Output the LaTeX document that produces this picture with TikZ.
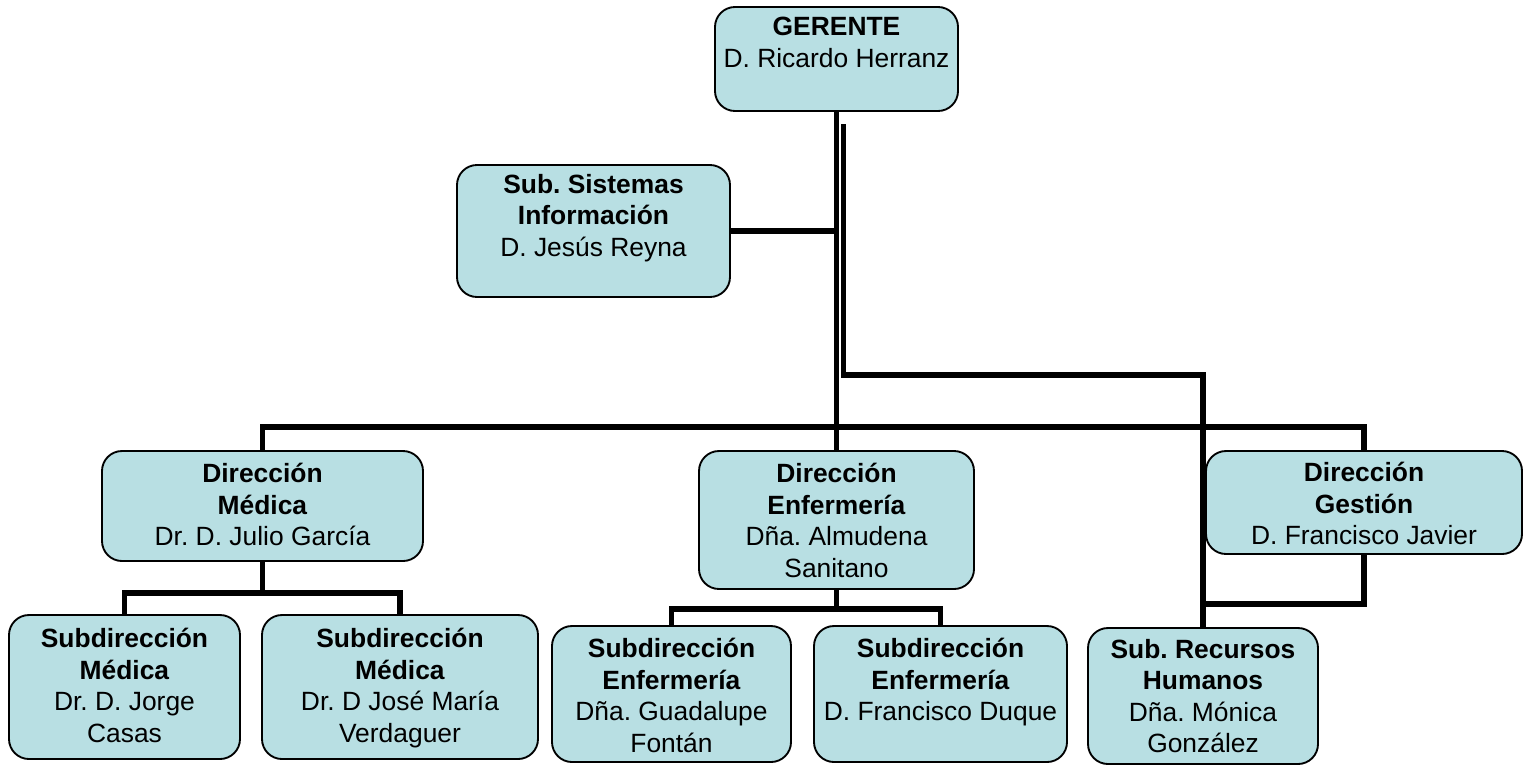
\documentclass[tikz,border=0pt]{standalone}
\usepackage{fontspec}
\setmainfont{Liberation Sans}
\usetikzlibrary{backgrounds}
\definecolor{boxfill}{HTML}{B8DFE3}
\frenchspacing
\begin{document}
\begin{tikzpicture}[x=0.75pt,y=-0.75pt,
  orgbox/.style={draw=black,line width=1.4pt,fill=boxfill,rounded corners=15pt,inner sep=0pt},
  orgtxt/.style={anchor=north,align=center,inner sep=0pt,font=\fontsize{19.8}{23.6}\selectfont},
  conn/.style={line width=4pt,line cap=butt,line join=miter}]
\useasboundingbox (0,0) rectangle (1523,765);
% boxes
\node[orgbox,minimum width=243*0.75pt,minimum height=104*0.75pt] (g) at (836.5,59) {};
\node[orgbox,minimum width=273*0.75pt,minimum height=132*0.75pt] (sis) at (593.5,231) {};
\node[orgbox,minimum width=321*0.75pt,minimum height=110*0.75pt] (dm) at (262.5,506) {};
\node[orgbox,minimum width=275*0.75pt,minimum height=138*0.75pt] (de) at (836.5,520) {};
\node[orgbox,minimum width=316*0.75pt,minimum height=103*0.75pt] (dg) at (1364,502.5) {};
\node[orgbox,minimum width=231*0.75pt,minimum height=144*0.75pt] (sm1) at (124.5,687) {};
\node[orgbox,minimum width=276*0.75pt,minimum height=144*0.75pt] (sm2) at (400,687) {};
\node[orgbox,minimum width=239*0.75pt,minimum height=136*0.75pt] (se1) at (671.5,694) {};
\node[orgbox,minimum width=253*0.75pt,minimum height=136*0.75pt] (se2) at (940.5,694) {};
\node[orgbox,minimum width=230*0.75pt,minimum height=136*0.75pt] (rh) at (1203,696) {};
% texts
\node[orgtxt] (tg) at ([yshift=-11*0.75pt]g.north) {\textbf{GERENTE}\\D. Ricardo Herranz};
\node[orgtxt] (tsis) at ([yshift=-10*0.75pt]sis.north) {\textbf{Sub. Sistemas}\\\textbf{Información}\\D. Jesús Reyna};
\node[orgtxt] (tdm) at ([yshift=-13*0.75pt]dm.north) {\textbf{Dirección}\\\textbf{Médica}\\Dr. D. Julio García};
\node[orgtxt] (tde) at ([yshift=-13*0.75pt]de.north) {\textbf{Dirección}\\\textbf{Enfermería}\\Dña. Almudena\\Sanitano};
\node[orgtxt] (tdg) at ([yshift=-12*0.75pt]dg.north) {\textbf{Dirección}\\\textbf{Gestión}\\D. Francisco Javier};
\node[orgtxt] (tsm1) at ([yshift=-14*0.75pt]sm1.north) {\textbf{Subdirección}\\\textbf{Médica}\\Dr. D. Jorge\\Casas};
\node[orgtxt] (tsm2) at ([yshift=-14*0.75pt]sm2.north) {\textbf{Subdirección}\\\textbf{Médica}\\Dr. D José María\\Verdaguer};
\node[orgtxt] (tse1) at ([yshift=-13*0.75pt]se1.north) {\textbf{Subdirección}\\\textbf{Enfermería}\\Dña. Guadalupe\\Fontán};
\node[orgtxt] (tse2) at ([yshift=-13*0.75pt]se2.north) {\textbf{Subdirección}\\\textbf{Enfermería}\\D. Francisco Duque};
\node[orgtxt] (trh) at ([yshift=-12*0.75pt]rh.north) {\textbf{Sub. Recursos}\\\textbf{Humanos}\\Dña. Mónica\\González};
% coordinates
\coordinate (bstart) at (843.5,124);
\coordinate (bturn) at (843.5,375);
\coordinate (bus) at (836.5,427);
\coordinate (dgjoin) at (1203,604);
\coordinate (dmbus) at ([yshift=-31*0.75pt]dm.south);
\coordinate (debus) at ([yshift=-19*0.75pt]de.south);
% connectors
\begin{scope}[on background layer]
\draw[conn] (g.south) -- (de.north);
\draw[conn] (bstart) -- (bturn) -| (rh.north);
\draw[conn] (sis.east) -- (sis.east -| g.south);
\draw[conn] (dm.north) |- (bus) -| (dg.north);
\draw[conn] (dg.south) |- (dgjoin);
\draw[conn] (sm1.north) |- (dmbus) -| (sm2.north);
\draw[conn] (dm.south) -- (dmbus);
\draw[conn] (se1.north) |- (debus) -| (se2.north);
\draw[conn] (de.south) -- (debus);
\end{scope}
\end{tikzpicture}
\end{document}
